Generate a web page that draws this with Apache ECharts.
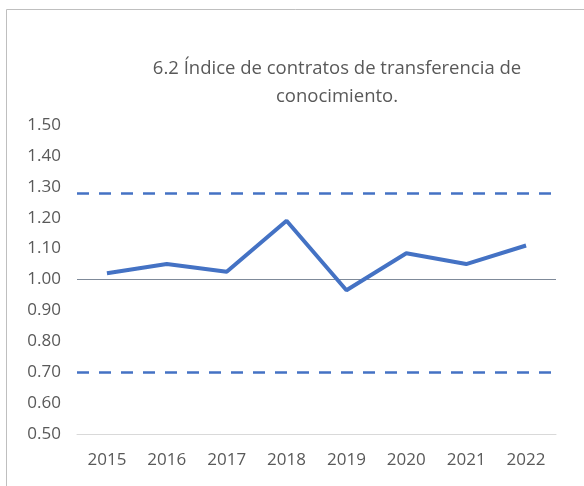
<!DOCTYPE html>
<html>
<head>
<meta charset="utf-8">
<script src="https://cdn.jsdelivr.net/npm/echarts@6/dist/echarts.min.js"></script>
<style>
  html, body { margin: 0; padding: 0; background: #fff; }
  #chart { width: 584px; height: 486px; }
</style>
</head>
<body>
<div id="chart"></div>
<script>
// datos
const years = ['2015', '2016', '2017', '2018', '2019', '2020', '2021', '2022'];
const indice = [1.02, 1.05, 1.025, 1.19, 0.965, 1.085, 1.05, 1.11];
const limiteSup = [1.28];
const limiteInf = [0.70];
const base = [1.00];

const myChart = echarts.init(document.getElementById('chart'));
myChart.setOption({
    animation: false,
    textStyle: { fontFamily: 'Open Sans' },
    title: {
        text: '6.2 Índice de contratos de transferencia de\nconocimiento.',
        left: 332,
        top: 50,
        textAlign: 'center',
        textStyle: {
            fontFamily: 'Open Sans',
            fontSize: 18.5,
            fontWeight: 'normal',
            color: '#595959',
            lineHeight: 28,
            align: 'center'
        }
    },
    graphic: [{
        type: 'rect',
        shape: { x: 6.5, y: 9.5, width: 700, height: 600 },
        style: { fill: 'none', stroke: '#bfbfbf', lineWidth: 1 },
        silent: true
    }],
    grid: { left: 77, right: 28, top: 125, bottom: 52 },
    xAxis: {
        type: 'category',
        data: years,
        boundaryGap: true,
        axisLine: { lineStyle: { color: '#d9d9d9', width: 1 } },
        axisTick: { show: false },
        axisLabel: { color: '#595959', fontSize: 17, margin: 18, fontFamily: 'Open Sans' }
    },
    yAxis: {
        type: 'value',
        min: 0.5,
        max: 1.5,
        interval: 0.1,
        axisLine: { show: false },
        axisTick: { show: false },
        splitLine: { show: false },
        axisLabel: {
            color: '#595959',
            fontSize: 17,
            margin: 16,
            fontFamily: 'Open Sans',
            formatter: v => v.toFixed(2)
        }
    },
    series: [{
        type: 'line',
        data: indice,
        symbol: 'none',
        lineStyle: { color: '#4472c4', width: 4 },
        z: 5,
        markLine: {
            silent: true,
            symbol: 'none',
            label: { show: false },
            data: [
                { yAxis: limiteSup[0], lineStyle: { color: '#4472c4', width: 2.5, type: [12, 10] } },
                { yAxis: limiteInf[0], lineStyle: { color: '#4472c4', width: 2.5, type: [12, 10] } },
                { yAxis: base[0], lineStyle: { color: '#7f8a99', width: 1.2, type: 'solid' } }
            ]
        }
    }]
});
</script>
</body>
</html>
